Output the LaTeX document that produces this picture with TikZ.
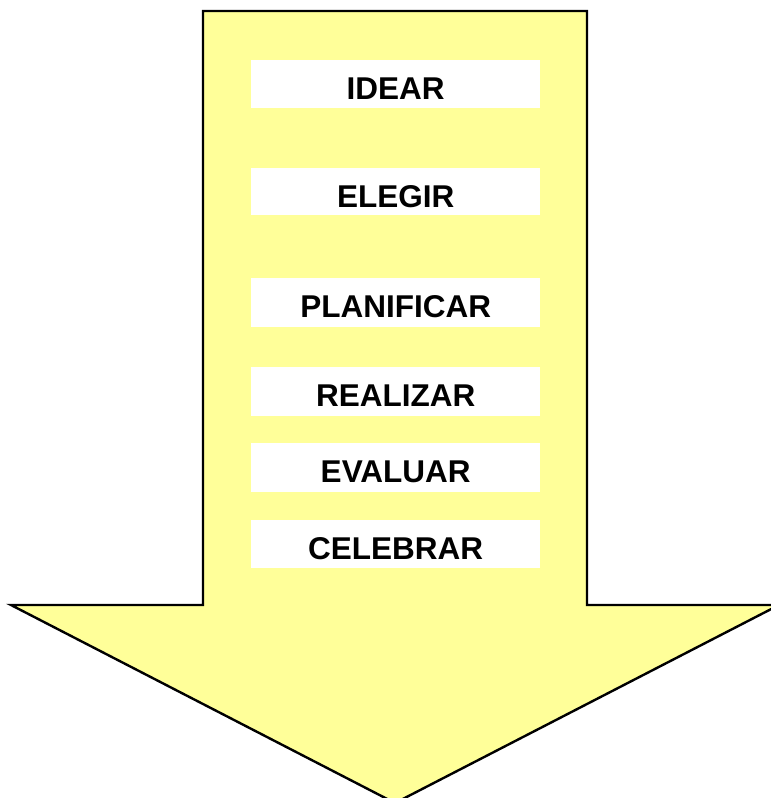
\documentclass[tikz,border=0pt]{standalone}
\usepackage{fontspec}
\setmainfont{Liberation Sans}
\definecolor{arrowyellow}{HTML}{FFFF99}
\begin{document}
\begin{tikzpicture}[x=1pt,y=-1pt,
  stepbox/.style={fill=white, draw=none, minimum width=289pt, inner sep=0pt,
    font=\bfseries\fontsize{31.5}{36}\selectfont, anchor=north west, text height=39pt, text depth=10pt}]
\useasboundingbox (0,0) rectangle (771,798);
\clip (0,0) rectangle (771,798);
\draw[fill=arrowyellow, line width=2.4pt, line join=miter]
  (203,11) -- (587,11) -- (587,605) -- (779,605) -- (395,803) -- (11,605) -- (203,605) -- cycle;
\node[stepbox, text depth=9pt] (idear) at (251,60) {IDEAR};
\node[stepbox, text depth=8pt] (elegir) at (251,168) {ELEGIR};
\node[stepbox] (planificar) at (251,278) {PLANIFICAR};
\node[stepbox] (realizar) at (251,367) {REALIZAR};
\node[stepbox] (evaluar) at (251,443) {EVALUAR};
\node[stepbox, text depth=9pt] (celebrar) at (251,520) {CELEBRAR};
\end{tikzpicture}
\end{document}
